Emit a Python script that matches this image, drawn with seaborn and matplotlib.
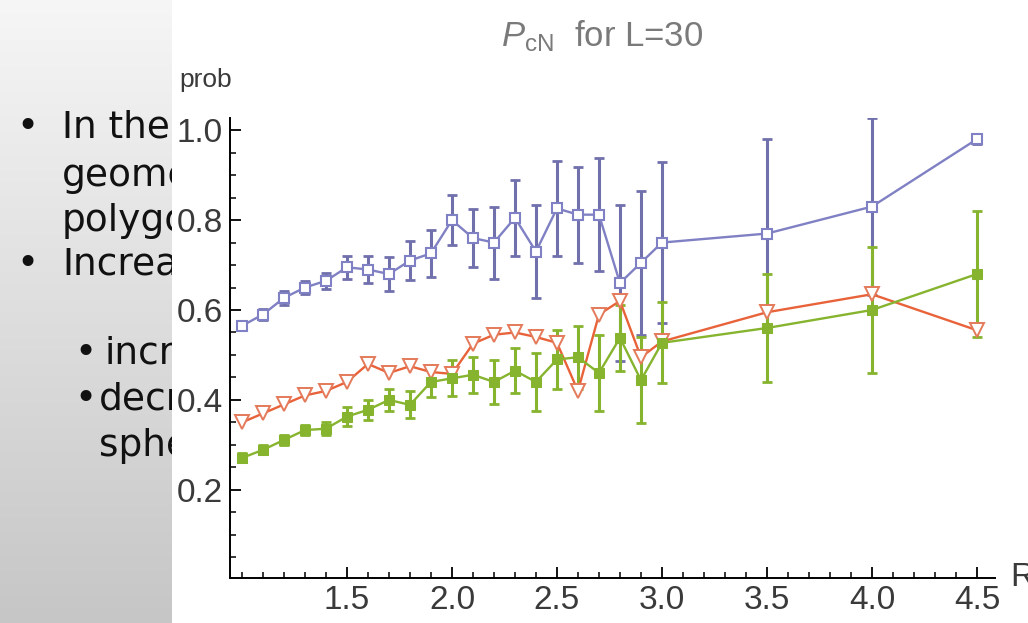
import numpy as np
import pandas as pd
import matplotlib
matplotlib.use("Agg")
import matplotlib.pyplot as plt
from matplotlib.patches import Rectangle
from matplotlib.ticker import MultipleLocator, FixedLocator
import seaborn as sns

# ---------------- data ----------------
R_values = [1.0, 1.1, 1.2, 1.3, 1.4, 1.5, 1.6, 1.7, 1.8, 1.9, 2.0,
            2.1, 2.2, 2.3, 2.4, 2.5, 2.6, 2.7, 2.8, 2.9, 3.0, 3.5, 4.0, 4.5]

blue_y = [0.565, 0.59, 0.627, 0.65, 0.665, 0.695, 0.69, 0.68, 0.71, 0.726, 0.80,
          0.76, 0.75, 0.805, 0.73, 0.826, 0.812, 0.812, 0.66, 0.705, 0.75, 0.77, 0.83, 0.98]
blue_err = [0.01, 0.012, 0.015, 0.015, 0.018, 0.026, 0.03, 0.037, 0.043, 0.053, 0.056,
            0.065, 0.08, 0.085, 0.104, 0.105, 0.107, 0.126, 0.174, 0.16, 0.18, 0.21, 0.196, 0.01]

orange_y = [0.35, 0.37, 0.39, 0.41, 0.42, 0.44, 0.48, 0.46, 0.475, 0.462, 0.458,
            0.525, 0.545, 0.55, 0.54, 0.527, 0.42, 0.59, 0.62, 0.495, 0.53, 0.595, 0.635, 0.555]

green_y = [0.271, 0.289, 0.311, 0.333, 0.336, 0.363, 0.378, 0.40, 0.389, 0.44, 0.448,
           0.456, 0.44, 0.465, 0.44, 0.49, 0.495, 0.46, 0.538, 0.444, 0.527, 0.56, 0.60, 0.68]
green_err = [0.01, 0.01, 0.012, 0.012, 0.015, 0.022, 0.022, 0.024, 0.03, 0.033, 0.04,
             0.04, 0.048, 0.05, 0.065, 0.065, 0.07, 0.085, 0.074, 0.095, 0.09, 0.12, 0.14, 0.14]

x_ticks = [1.5, 2.0, 2.5, 3.0, 3.5, 4.0, 4.5]
y_ticks = [0.2, 0.4, 0.6, 0.8, 1.0]
title_text = r"$P_{\mathrm{cN}}$  for L=30"
slide_lines = ["In the", "geometric", "polygon", "Increasing"]
slide_sublines = ["increases", "decreases", "sphere"]

# ---------------- style ----------------
sns.set_theme(style="white")
plt.rcParams["font.family"] = ["Liberation Sans", "DejaVu Sans"]
plt.rcParams["mathtext.fontset"] = "custom"
plt.rcParams["mathtext.rm"] = "Liberation Sans"
plt.rcParams["mathtext.it"] = "Liberation Sans:italic"

W, H = 1028, 623
fig = plt.figure(figsize=(W / 100, H / 100), dpi=100)

# background slide
ax_bg = fig.add_axes([0, 0, 1, 1], zorder=0)
ax_bg.set_xlim(0, W)
ax_bg.set_ylim(H, 0)
ax_bg.axis("off")
grad = np.linspace(0, 1, 256)[:, None]
ax_bg.imshow(grad, extent=[0, 172, H, 0], cmap=matplotlib.colors.LinearSegmentedColormap.from_list(
    "g", ["#f6f6f6", "#c6c6c6"]), aspect="auto", zorder=1)
clip_rect = Rectangle((0, 0), 172, H, transform=ax_bg.transData, visible=False)
ax_bg.add_patch(clip_rect)
slide_font = dict(family=["DejaVu Sans"], fontsize=27, color="#111111", va="center")
texts = []
ys = [128, 176, 221, 265]
for t, yy in zip(slide_lines, ys):
    texts.append(ax_bg.text(62, yy, t, zorder=3, **slide_font))
texts.append(ax_bg.text(16, 128, "\u2022", zorder=3, **slide_font))
texts.append(ax_bg.text(16, 265, "\u2022", zorder=3, **slide_font))
texts.append(ax_bg.text(74, 354, "\u2022", zorder=3, **slide_font))
texts.append(ax_bg.text(74, 400, "\u2022", zorder=3, **slide_font))
texts.append(ax_bg.text(104, 354, slide_sublines[0], zorder=3, **slide_font))
texts.append(ax_bg.text(99, 400, slide_sublines[1], zorder=3, **slide_font))
texts.append(ax_bg.text(99, 446, slide_sublines[2], zorder=3, **slide_font))
for t in texts:
    t.set_clip_path(clip_rect)
ax_bg.add_patch(Rectangle((172, 0), W - 172, H, facecolor="white", edgecolor="none", zorder=5))

# main plot
left, right, top, bottom = 230, 995, 118, 578
ax = fig.add_axes([left / W, 1 - bottom / H, (right - left) / W, (bottom - top) / H], zorder=1)
ax.set_facecolor("none")

c_blue, c_orange, c_green = "#8080c4", "#e8623a", "#86b42e"
c_blue_bar = "#7070ac"

ax.errorbar(R_values, blue_y, yerr=blue_err, fmt="none", ecolor=c_blue_bar,
            elinewidth=2.2, capsize=3.6, capthick=2.0, zorder=2)
ax.errorbar(R_values, green_y, yerr=green_err, fmt="none", ecolor=c_green,
            elinewidth=2.2, capsize=3.6, capthick=2.0, zorder=2)

sns.lineplot(x=R_values, y=blue_y, ax=ax, color=c_blue, lw=1.7, marker="s", ms=7,
             markerfacecolor="white", markeredgecolor=c_blue, markeredgewidth=1.5, zorder=4)
sns.lineplot(x=R_values, y=orange_y, ax=ax, color=c_orange, lw=1.7, marker="v", ms=10,
             markerfacecolor="white", markeredgecolor="#e47a5a", markeredgewidth=1.4, zorder=3)
sns.lineplot(x=R_values, y=green_y, ax=ax, color=c_green, lw=1.7, marker="s", ms=7,
             markerfacecolor=c_green, markeredgecolor=c_green, zorder=3)

ax.set_xlim(0.943, 4.586)
ax.set_ylim(0.004, 1.027)
ax.set_xlabel("")
ax.set_ylabel("")
for s in ["top", "right"]:
    ax.spines[s].set_visible(False)
for s in ["left", "bottom"]:
    ax.spines[s].set_color("black")
    ax.spines[s].set_linewidth(1.4)

ax.xaxis.set_major_locator(FixedLocator(x_ticks))
ax.set_xticklabels([f"{v:.1f}" for v in x_ticks])
ax.xaxis.set_minor_locator(MultipleLocator(0.1))
ax.yaxis.set_major_locator(FixedLocator(y_ticks))
ax.set_yticklabels([f"{v:.1f}" for v in y_ticks])
ax.yaxis.set_minor_locator(MultipleLocator(0.05))
ax.tick_params(which="major", direction="in", length=8, width=1.3, color="black",
               labelsize=24, labelcolor="#3a3a3a", pad=5)
ax.tick_params(which="minor", direction="in", length=4, width=1.1, color="black")
ax.tick_params(axis="x", which="both", bottom=True)
ax.tick_params(axis="y", which="both", left=True)

fig.text(206 / W, 1 - 80 / H, "prob", fontsize=19, color="#3a3a3a", ha="center", va="center")
fig.text(1010 / W, 1 - 578 / H, "R", fontsize=24, color="#3a3a3a", ha="left", va="center")
fig.text(602 / W, 1 - 36 / H, title_text, fontsize=25, color="#7a7a7a", ha="center", va="center")

fig.savefig("out.png", dpi=100)
